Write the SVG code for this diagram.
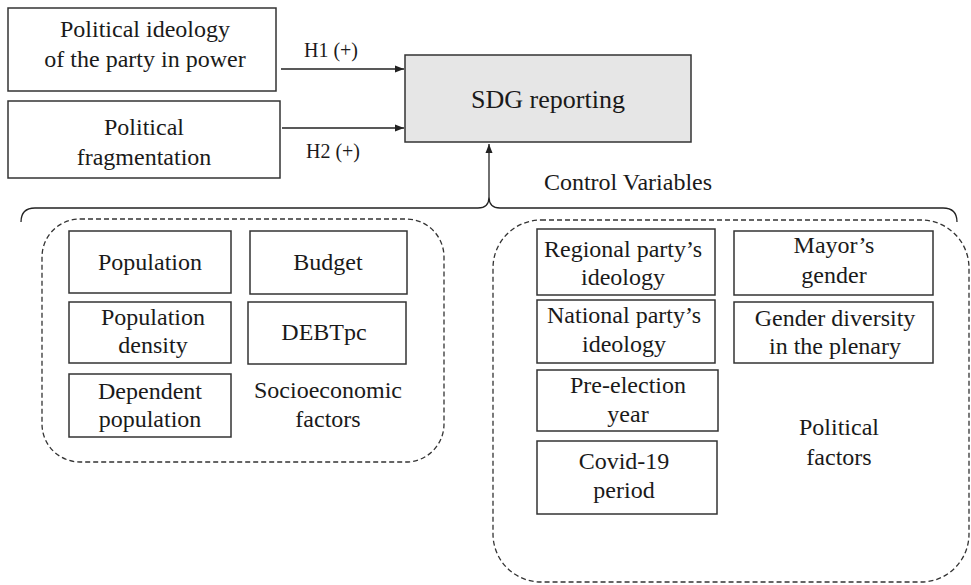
<svg xmlns="http://www.w3.org/2000/svg" width="971" height="585" viewBox="0 0 971 585">
<style>
text{font-family:'Liberation Serif',serif;fill:#1a1a1a;text-anchor:middle}
.t{font-size:24px}
.s{font-size:20px}
.box{fill:#fff;stroke:#333;stroke-width:1.5}
.grp{fill:none;stroke:#333;stroke-width:1.3;stroke-dasharray:5 3}
.ln{fill:none;stroke:#222;stroke-width:1.3}
</style>
<defs>
<marker id="ah" markerWidth="10" markerHeight="8" refX="9" refY="4" orient="auto" markerUnits="userSpaceOnUse">
<path d="M0,0.5 L9,4 L0,7.5 Z" fill="#222"/>
</marker>
</defs>
<rect width="971" height="585" fill="#fff"/>
<g id="connectors">
<line class="ln" x1="281" y1="69" x2="404" y2="69" marker-end="url(#ah)"/>
<line class="ln" x1="282" y1="128" x2="404" y2="128" marker-end="url(#ah)"/>
<line class="ln" x1="489" y1="197" x2="489" y2="144" marker-end="url(#ah)"/>
<path class="ln" d="M21,222 Q21,208 35,208 L478,208 Q489,208 489,197 Q489,208 500,208 L943,208 Q957,208 957,222" stroke-width="1.6"/>
<text class="s" x="331" y="57" font-family="Liberation Serif">H1 (+)</text>
<text class="s" x="333" y="158" font-family="Liberation Serif">H2 (+)</text>
<text class="t" x="628" y="190" font-family="Liberation Serif">Control Variables</text>
</g>
<g id="ideology">
<rect class="box" x="8" y="8" width="268" height="83"/>
<text class="t" x="145" y="37">Political ideology</text>
<text class="t" x="145" y="67">of the party in power</text>
</g>
<g id="fragmentation">
<rect class="box" x="8" y="101" width="272" height="77"/>
<text class="t" x="144" y="135">Political</text>
<text class="t" x="144" y="165">fragmentation</text>
</g>
<g id="sdg">
<rect x="405" y="55" width="286" height="87" fill="#e6e6e6" stroke="#333" stroke-width="1.5"/>
<text x="548" y="108" font-size="26">SDG reporting</text>
</g>
<g id="socioeconomic">
<rect class="grp" x="42" y="219" width="402" height="243" rx="38" ry="38"/>
<text class="t" x="328" y="398">Socioeconomic</text>
<text class="t" x="328" y="427">factors</text>
</g>
<g id="population">
<rect class="box" x="69" y="231" width="162" height="62"/>
<text class="t" x="150" y="270">Population</text>
</g>
<g id="budget">
<rect class="box" x="250" y="231" width="157" height="63"/>
<text class="t" x="328" y="270">Budget</text>
</g>
<g id="density">
<rect class="box" x="69" y="302" width="162" height="61"/>
<text class="t" x="153" y="325">Population</text>
<text class="t" x="153" y="353">density</text>
</g>
<g id="debt">
<rect class="box" x="248" y="302" width="158" height="62"/>
<text class="t" x="324" y="340">DEBTpc</text>
</g>
<g id="dependent">
<rect class="box" x="69" y="374" width="162" height="63"/>
<text class="t" x="150" y="399">Dependent</text>
<text class="t" x="150" y="427">population</text>
</g>
<g id="political">
<rect class="grp" x="493" y="220" width="476" height="362" rx="48" ry="48"/>
<text class="t" x="839" y="435">Political</text>
<text class="t" x="839" y="465">factors</text>
</g>
<g id="regional">
<rect class="box" x="537" y="229" width="178" height="66"/>
<text class="t" x="623" y="257">Regional party’s</text>
<text class="t" x="623" y="285">ideology</text>
</g>
<g id="mayor">
<rect class="box" x="734" y="231" width="199" height="64"/>
<text class="t" x="834" y="253">Mayor’s</text>
<text class="t" x="834" y="283">gender</text>
</g>
<g id="national">
<rect class="box" x="537" y="300" width="178" height="63"/>
<text class="t" x="624" y="323">National party’s</text>
<text class="t" x="624" y="352">ideology</text>
</g>
<g id="diversity">
<rect class="box" x="734" y="302" width="199" height="61"/>
<text class="t" x="835" y="326">Gender diversity</text>
<text class="t" x="835" y="354">in the plenary</text>
</g>
<g id="preelection">
<rect class="box" x="537" y="370" width="181" height="61"/>
<text class="t" x="628" y="393">Pre-election</text>
<text class="t" x="628" y="422">year</text>
</g>
<g id="covid">
<rect class="box" x="537" y="441" width="180" height="73"/>
<text class="t" x="624" y="469">Covid-19</text>
<text class="t" x="624" y="498">period</text>
</g>
</svg>
